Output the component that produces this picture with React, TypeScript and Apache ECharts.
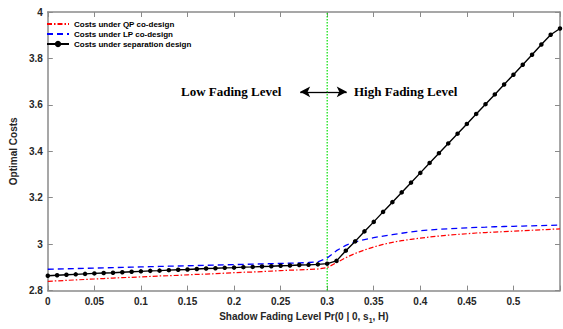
import React, { useEffect, useRef } from "react";
import * as echarts from "echarts";

const xs = [
  0, 0.01, 0.02, 0.03, 0.04, 0.05, 0.06, 0.07, 0.08, 0.09,
  0.1, 0.11, 0.12, 0.13, 0.14, 0.15, 0.16, 0.17, 0.18, 0.19,
  0.2, 0.21, 0.22, 0.23, 0.24, 0.25, 0.26, 0.27, 0.28, 0.29,
  0.3, 0.31, 0.32, 0.33, 0.34, 0.35, 0.36, 0.37, 0.38, 0.39,
  0.4, 0.41, 0.42, 0.43, 0.44, 0.45, 0.46, 0.47, 0.48, 0.49,
  0.5, 0.51, 0.52, 0.53, 0.54, 0.55,
];

const qpCosts = [
  2.840, 2.842, 2.844, 2.846, 2.848, 2.850, 2.852, 2.854, 2.856, 2.857,
  2.859, 2.861, 2.863, 2.864, 2.866, 2.868, 2.870, 2.871, 2.873, 2.875,
  2.877, 2.879, 2.880, 2.882, 2.884, 2.886, 2.888, 2.889, 2.891, 2.893,
  2.899, 2.920, 2.942, 2.960, 2.975, 2.988, 2.999, 3.008, 3.015, 3.021,
  3.026, 3.031, 3.035, 3.039, 3.042, 3.045, 3.048, 3.050, 3.052, 3.054,
  3.056, 3.058, 3.060, 3.062, 3.064, 3.066,
];

const lpCosts = [
  2.892, 2.893, 2.894, 2.895, 2.896, 2.897, 2.898, 2.899, 2.900, 2.901,
  2.902, 2.903, 2.904, 2.905, 2.906, 2.907, 2.908, 2.909, 2.910, 2.911,
  2.912, 2.913, 2.914, 2.915, 2.916, 2.917, 2.918, 2.919, 2.921, 2.924,
  2.940, 2.972, 2.995, 3.010, 3.020, 3.028, 3.035, 3.041, 3.047, 3.053,
  3.058, 3.061, 3.064, 3.066, 3.068, 3.070, 3.072, 3.073, 3.075, 3.076,
  3.077, 3.078, 3.079, 3.080, 3.081, 3.082,
];

const sepCosts = [
  2.864, 2.866, 2.868, 2.870, 2.872, 2.874, 2.876, 2.877, 2.879, 2.881,
  2.883, 2.885, 2.886, 2.888, 2.890, 2.891, 2.893, 2.895, 2.896, 2.898,
  2.899, 2.901, 2.902, 2.904, 2.905, 2.907, 2.908, 2.910, 2.911, 2.913,
  2.916, 2.928, 2.972, 3.012, 3.055, 3.096, 3.139, 3.181, 3.223, 3.265,
  3.307, 3.350, 3.392, 3.434, 3.476, 3.518, 3.561, 3.603, 3.645, 3.688,
  3.730, 3.773, 3.816, 3.860, 3.902, 3.929,
];

const seriesNames = [
  "Costs under QP co-design",
  "Costs under LP co-design",
  "Costs under separation design",
];

const boundaryX = 0.3;
const yRange = [2.8, 4];
const arrowY = 3.656;
const arrowLeftX = 0.271;
const arrowRightX = 0.321;

const AXIS_COLOR = "#8a8a8a";
const TEXT_COLOR = "#262626";
const FONT = "Liberation Sans, Arial, sans-serif";

export default function App() {
  const ref = useRef<HTMLDivElement>(null);

  useEffect(() => {
    if (!ref.current) return;
    const chart = echarts.init(ref.current, null, { renderer: "svg" });
    const toPairs = (arr: number[]) => xs.map((x, i) => [x, arr[i]]);

    const axisLabelStyle = {
      color: TEXT_COLOR,
      fontFamily: FONT,
      fontWeight: "bold" as const,
      fontSize: 10,
    };

    chart.setOption({
      animation: false,
      backgroundColor: "#ffffff",
      grid: { left: 41, right: 3, top: 12, bottom: 34, containLabel: false },
      legend: {
        orient: "vertical",
        left: 46,
        top: 20,
        padding: 0,
        itemGap: 2,
        itemWidth: 22,
        itemHeight: 8,
        data: [
          { name: seriesNames[0], itemStyle: { opacity: 0 } },
          { name: seriesNames[1], itemStyle: { opacity: 0 } },
          { name: seriesNames[2] },
        ],
        textStyle: {
          color: "#000",
          fontFamily: FONT,
          fontWeight: "bold",
          fontSize: 8,
          lineHeight: 8,
        },
      },
      xAxis: [
        {
          type: "value",
          min: 0,
          max: 0.55,
          interval: 0.05,
          name: "Shadow Fading Level Pr(0 | 0, s{sub|1}, H)",
          nameLocation: "middle",
          nameGap: 18,
          nameTextStyle: {
            color: TEXT_COLOR,
            fontFamily: FONT,
            fontWeight: "bold",
            fontSize: 10,
            rich: {
              sub: {
                color: TEXT_COLOR,
                fontFamily: FONT,
                fontWeight: "bold",
                fontSize: 7,
                padding: [8, 0, 0, 0],
              },
            },
          },
          axisLine: { show: true, onZero: false, lineStyle: { color: AXIS_COLOR, width: 1.5 } },
          axisTick: { show: true, inside: true, length: 5, lineStyle: { color: AXIS_COLOR } },
          axisLabel: {
            ...axisLabelStyle,
            margin: 6,
            formatter: (v: number) => (v > 0.54 ? "" : String(Math.round(v * 100) / 100)),
          },
          splitLine: { show: false },
        },
        {
          type: "value",
          position: "top",
          min: 0,
          max: 0.55,
          interval: 0.05,
          axisLine: { show: true, onZero: false, lineStyle: { color: AXIS_COLOR, width: 1.5 } },
          axisTick: { show: true, inside: true, length: 5, lineStyle: { color: AXIS_COLOR } },
          axisLabel: { show: false },
          splitLine: { show: false },
        },
      ],
      yAxis: [
        {
          type: "value",
          min: 2.8,
          max: 4,
          interval: 0.2,
          name: "Optimal Costs",
          nameLocation: "middle",
          nameGap: 14,
          nameTextStyle: {
            color: TEXT_COLOR,
            fontFamily: FONT,
            fontWeight: "bold",
            fontSize: 10,
          },
          axisLine: { show: true, onZero: false, lineStyle: { color: AXIS_COLOR, width: 1.5 } },
          axisTick: { show: true, inside: true, length: 5, lineStyle: { color: AXIS_COLOR } },
          axisLabel: {
            ...axisLabelStyle,
            margin: 5,
            formatter: (v: number) => String(Math.round(v * 10) / 10),
          },
          splitLine: { show: false },
        },
        {
          type: "value",
          position: "right",
          min: 2.8,
          max: 4,
          interval: 0.2,
          axisLine: { show: true, onZero: false, lineStyle: { color: AXIS_COLOR, width: 1.5 } },
          axisTick: { show: true, inside: true, length: 5, lineStyle: { color: AXIS_COLOR } },
          axisLabel: { show: false },
          splitLine: { show: false },
        },
      ],
      series: [
        {
          name: "boundary",
          type: "line",
          data: [
            [boundaryX, yRange[0]],
            [boundaryX, yRange[1]],
          ],
          symbol: "none",
          silent: true,
          lineStyle: { color: "#00e000", width: 1.2, type: [1.5, 1.5] },
          z: 2,
        },
        {
          name: seriesNames[0],
          type: "line",
          data: toPairs(qpCosts),
          symbol: "none",
          lineStyle: { color: "#ff0000", width: 1.2, type: [5, 2, 1.5, 2] },
          itemStyle: { color: "#ff0000" },
          z: 3,
        },
        {
          name: seriesNames[1],
          type: "line",
          data: toPairs(lpCosts),
          symbol: "none",
          lineStyle: { color: "#0000ff", width: 1.3, type: [6, 4] },
          itemStyle: { color: "#0000ff" },
          z: 3,
          markLine: {
            silent: true,
            symbol: ["none", "arrow"],
            symbolSize: [8, 10],
            label: { show: false },
            data: [
              [
                { coord: [boundaryX, arrowY], lineStyle: { color: "#000", width: 1.3, type: "solid" } },
                { coord: [arrowLeftX, arrowY] },
              ],
              [
                { coord: [boundaryX, arrowY], lineStyle: { color: "#000", width: 1.3, type: "solid" } },
                { coord: [arrowRightX, arrowY] },
              ],
            ],
          },
        },
        {
          name: seriesNames[2],
          type: "line",
          data: toPairs(sepCosts),
          symbol: "circle",
          symbolSize: 4.5,
          showSymbol: true,
          lineStyle: { color: "#000000", width: 1.4 },
          itemStyle: { color: "#000000" },
          z: 4,
        },
      ],
      graphic: [
        {
          type: "text",
          left: 181,
          top: 85,
          style: {
            text: "Low Fading Level",
            font: "bold 13px 'Liberation Serif', 'Times New Roman', serif",
            fill: "#000",
          },
        },
        {
          type: "text",
          left: 354,
          top: 85,
          style: {
            text: "High Fading Level",
            font: "bold 13px 'Liberation Serif', 'Times New Roman', serif",
            fill: "#000",
          },
        },
      ],
    });

    return () => chart.dispose();
  }, []);

  return (
    <div
      ref={ref}
      style={{ position: "fixed", left: 0, top: 0, width: 563, height: 329 }}
    />
  );
}
